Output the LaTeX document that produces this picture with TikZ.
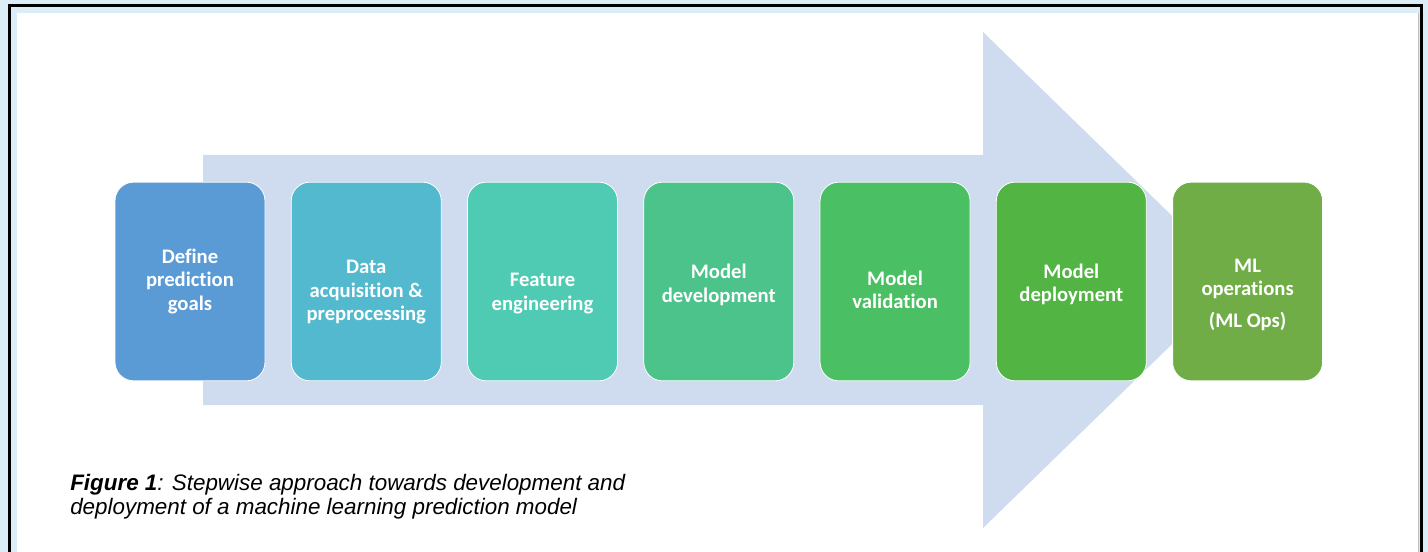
\documentclass[tikz,border=0pt]{standalone}
\usepackage{fontspec}
\setmainfont{Carlito}[Ligatures=NoCommon]
\newfontfamily\capfont{Liberation Sans}
\usetikzlibrary{positioning}

\definecolor{pageblue}{HTML}{DDEDF8}
\definecolor{flowblue}{HTML}{CFDBEE}
\definecolor{goalblue}{HTML}{5B9BD5}
\definecolor{datateal}{HTML}{52B9CE}
\definecolor{featteal}{HTML}{4FCAB3}
\definecolor{devgreen}{HTML}{4CC38B}
\definecolor{valgreen}{HTML}{4ABF63}
\definecolor{depgreen}{HTML}{51B443}
\definecolor{opsgreen}{HTML}{70AD47}

\begin{document}
\begin{tikzpicture}[x=0.75pt, y=-0.75pt, node distance=19.1pt,
    stage/.style={rectangle, rounded corners=14pt, draw=white, line width=0.6pt,
        minimum width=112.5pt, minimum height=149pt, inner sep=0pt},
    steptext/.style={align=center, inner sep=0pt, text=white,
        font=\bfseries\fontsize{15.5}{17.4}\selectfont}]
    \useasboundingbox (0,0) rectangle (1428,552);
    % page and frame
    \fill[pageblue] (0,0) rectangle (1428,552);
    \fill[white] (17,13) rectangle (1418,552);
    \draw[gray!50, line width=0.75pt] (1418.5,13) -- (1418.5,552);
    \draw[black, line width=2.25pt] (9.5,552) |- (1421.5,5.5) -- (1421.5,552);

    % big arrow behind the steps
    \fill[flowblue] (203,155) -- (983,155) -- (983,32) -- (1238,280)
        -- (983,528) -- (983,405) -- (203,405) -- cycle;

    \node[stage, fill=goalblue,
        label={[steptext]center:Define\\prediction\\goals}] (goals) at (190,281.5) {};
    \node[stage, fill=datateal, right=of goals,
        label={[steptext, yshift=-8pt]center:Data\\acquisition \&\\preprocessing}] (data) {};
    \node[stage, fill=featteal, right=of data,
        label={[steptext, yshift=-9pt]center:Feature\\engineering}] (feature) {};
    \node[stage, fill=devgreen, right=of feature,
        label={[steptext, yshift=-2.5pt]center:Model\\development}] (develop) {};
    \node[stage, fill=valgreen, right=of develop,
        label={[steptext, yshift=-6.4pt]center:Model\\validation}] (validate) {};
    \node[stage, fill=depgreen, right=of validate,
        label={[steptext, yshift=-1.9pt]center:Model\\deployment}] (deploy) {};
    \node[stage, fill=opsgreen, right=of deploy,
        label={[steptext, yshift=-10pt]center:{ML\\operations\\[7pt](ML Ops)}}] (mlops) {};

    \node[anchor=north west, align=left, inner sep=0pt,
        font=\capfont\itshape\fontsize{16.8}{18}\selectfont] (caption) at (70,474)
        {\textbf{Figure 1}: Stepwise approach towards development and\\
         deployment of a machine learning prediction model};
\end{tikzpicture}
\end{document}
